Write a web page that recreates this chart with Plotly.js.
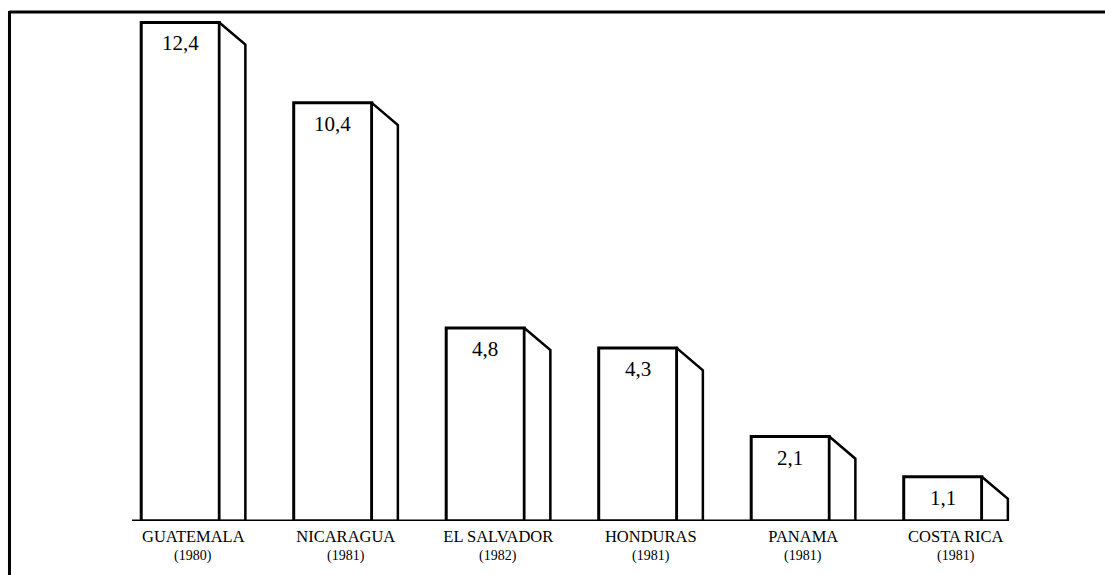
<!DOCTYPE html>
<html>
<head>
<meta charset="utf-8">
<script src="https://cdn.plot.ly/plotly-3.0.1.min.js"></script>
<style>
html,body{margin:0;padding:0;background:#fff;}
#chart{width:1105px;height:575px;}
</style>
</head>
<body>
<div id="chart"></div>
<script>
// Data
const countries = ["GUATEMALA", "NICARAGUA", "EL SALVADOR", "HONDURAS", "PANAMA", "COSTA RICA"];
const years = ["(1980)", "(1981)", "(1982)", "(1981)", "(1981)", "(1981)"];
const values = [12.4, 10.4, 4.8, 4.3, 2.1, 1.1];

// Styling constants (not data)
const FONT = "'Liberation Serif', 'Times New Roman', serif";
const BAR_W = 0.512;     // front face width (category units)
const DEPTH_X = 0.171;   // side face depth (category units)
const DEPTH_Y = 0.55;    // side diagonal drop (value units)
const LW = 3;

const idx = countries.map((_, i) => i);
const labels = values.map(v => v.toFixed(1).replace('.', ','));

const traces = [];
// front faces
traces.push({
  type: 'bar',
  x: idx,
  y: values,
  width: BAR_W,
  marker: {color: '#ffffff', line: {color: '#000000', width: LW}},
  hoverinfo: 'skip',
  showlegend: false
});
// side faces
values.forEach((v, i) => {
  const xr = i + BAR_W / 2;
  traces.push({
    type: 'scatter',
    mode: 'lines',
    x: [xr, xr, xr + DEPTH_X, xr + DEPTH_X, xr],
    y: [0, v, v - DEPTH_Y, 0, 0],
    fill: 'toself',
    fillcolor: '#ffffff',
    line: {color: '#000000', width: LW - 0.5},
    hoverinfo: 'skip',
    showlegend: false
  });
});
// baseline
traces.push({
  type: 'scatter',
  mode: 'lines',
  x: [-BAR_W / 2 - 0.06, idx[idx.length - 1] + BAR_W / 2 + DEPTH_X],
  y: [0, 0],
  line: {color: '#000000', width: LW},
  hoverinfo: 'skip',
  showlegend: false
});

const annotations = [];
values.forEach((v, i) => {
  annotations.push({
    x: i, y: v, xref: 'x', yref: 'y',
    text: labels[i],
    showarrow: false,
    xanchor: 'center', yanchor: 'top',
    yshift: -7,
    font: {family: FONT, size: 21, color: '#000'}
  });
  annotations.push({
    x: i + DEPTH_X / 2, y: 0, xref: 'x', yref: 'y',
    text: years[i],
    showarrow: false,
    xanchor: 'center', yanchor: 'middle',
    yshift: -35,
    font: {family: FONT, size: 14, color: '#000'}
  });
});

const layout = {
  width: 1105,
  height: 575,
  margin: {l: 104, r: 86, t: 12, b: 54},
  paper_bgcolor: '#ffffff',
  plot_bgcolor: '#ffffff',
  showlegend: false,
  xaxis: {
    range: [-0.5, 5.5],
    tickmode: 'array',
    tickvals: idx.map(i => i + DEPTH_X / 2),
    ticktext: countries,
    showgrid: false,
    zeroline: false,
    showline: false,
    ticks: '',
    ticklabelstandoff: 3,
    tickfont: {family: FONT, size: 16.5, color: '#000'},
    fixedrange: true
  },
  yaxis: {
    range: [0, 12.66],
    visible: false,
    showgrid: false,
    zeroline: false,
    fixedrange: true
  },
  annotations: annotations,
  shapes: [
    {type: 'line', xref: 'paper', yref: 'paper', x0: -0.1033, x1: 1.1, y0: 1, y1: 1,
     line: {color: '#000', width: 3}},
    {type: 'line', xref: 'paper', yref: 'paper', x0: -0.1033, x1: -0.1033, y0: 1.002, y1: -0.12,
     line: {color: '#000', width: 3}}
  ]
};

Plotly.newPlot('chart', traces, layout, {displayModeBar: false, staticPlot: true});
</script>
</body>
</html>
